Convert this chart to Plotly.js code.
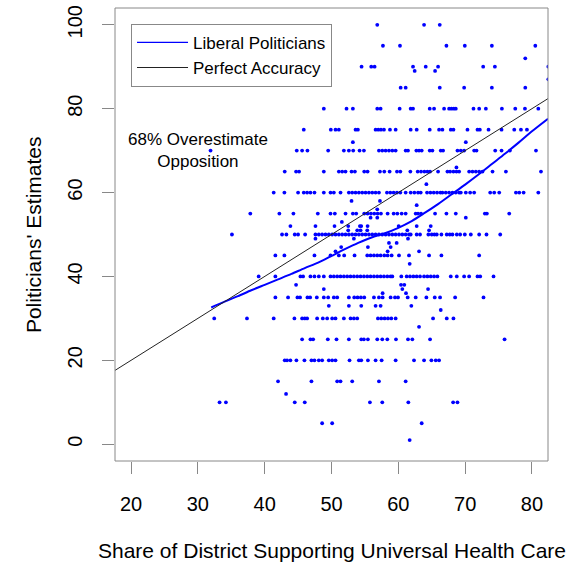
<!DOCTYPE html>
<html>
<head>
<meta charset="utf-8">
<script src="https://cdn.plot.ly/plotly-3.0.1.min.js"></script>
<style>
  html, body { margin: 0; padding: 0; background: #ffffff; }
  #chart { width: 576px; height: 567px; }
</style>
</head>
<body>
<div id="chart"></div>
<script>
// ---- Data ----
// Politicians' estimates (y) and the district shares (x) recorded at each estimate level
const estimateLevels = [100, 95, 92, 90, 89, 87, 85, 80, 75, 72, 70, 66, 65, 62, 60, 58, 57, 56, 55, 54, 53, 52, 51, 50,
  49, 48, 47, 46, 45, 43, 40, 38, 37, 36, 35, 33, 32, 30, 28, 25, 20, 15, 12, 10, 5, 1];
const sharesAtLevel = [
  [56.85, 63.85, 66.2],
  [57.7, 60.25, 67.2, 69.95, 74.0, 80.5],
  [79.0],
  [54.5, 55.95, 56.45, 62.2, 64.1, 65.95, 72.7, 74.45, 82.45],
  [62.45, 65.5],
  [82.45],
  [60.35, 61.1, 66.2, 69.85, 74.0, 79.0],
  [48.85, 52.25, 53.2, 56.85, 57.35, 60.2, 61.85, 62.2, 64.7, 65.35, 66.85, 67.6, 67.95, 68.3, 68.6, 71.25, 72.1, 73.1, 75.5, 77.5, 78.95, 80.95],
  [45.85, 49.9, 50.6, 51.1, 53.6, 53.95, 56.6, 57.0, 57.4, 57.85, 58.75, 59.6, 61.85, 62.75, 64.7, 66.1, 66.6, 67.85, 68.25, 70.35, 71.85, 72.2, 73.5, 75.45, 77.35, 78.35, 79.25],
  [53.2, 70.1],
  [31.9, 44.8, 45.6, 46.4, 49.5, 51.85, 52.6, 53.25, 54.2, 54.85, 57.1, 57.6, 58.1, 58.6, 59.1, 59.6, 61.1, 61.45, 62.7, 63.1, 63.5, 64.7, 65.1, 66.35, 66.7, 68.85, 69.35, 69.85, 71.35, 71.7, 74.5, 75.45, 76.7, 80.6],
  [68.7],
  [43.0, 44.7, 45.15, 48.85, 51.1, 51.6, 52.1, 53.0, 53.5, 54.9, 55.4, 57.25, 57.9, 58.7, 59.8, 60.3, 61.8, 62.9, 63.4, 63.9, 64.35, 64.75, 65.95, 67.35, 67.75, 68.25, 68.7, 69.1, 70.6, 71.1, 71.6, 72.1, 72.6, 74.1, 76.1, 81.35],
  [64.2],
  [41.35, 42.95, 45.0, 45.85, 46.35, 46.85, 47.45, 48.85, 49.85, 50.35, 51.35, 52.6, 53.1, 53.6, 54.1, 54.6, 55.1, 55.6, 56.1, 56.6, 57.1, 58.3, 58.8, 59.3, 59.8, 60.3, 61.1, 61.85, 62.4, 62.95, 63.35, 64.3, 64.8, 65.3, 65.8, 66.3, 66.6, 67.1, 67.6, 68.1, 68.6, 69.1, 69.35, 70.1, 70.75, 71.35, 73.75, 74.35, 75.1, 77.6, 78.1, 78.75, 80.95],
  [53.0, 57.25],
  [62.75],
  [56.85],
  [37.85, 42.2, 44.3, 47.95, 49.85, 50.5, 52.1, 53.2, 53.7, 54.9, 55.4, 55.9, 56.4, 56.9, 57.4, 58.4, 59.3, 59.85, 60.5, 61.1, 62.6, 62.95, 63.4, 65.5, 67.2, 68.6, 72.95, 73.25, 76.6],
  [55.85, 56.85, 70.1],
  [51.55],
  [43.85, 47.6, 50.45, 52.5, 54.25, 54.45, 55.4, 60.05, 62.75, 64.85],
  [52.5, 53.85, 54.35, 55.35, 61.35, 64.6],
  [35.1, 42.6, 43.25, 44.5, 45.0, 46.05, 47.6, 48.1, 48.6, 49.1, 49.6, 50.1, 50.6, 51.1, 51.6, 52.1, 52.6, 53.1, 53.6, 54.1, 54.6, 55.1, 55.6, 56.1, 56.6, 57.1, 57.6, 58.1, 58.6, 59.1, 59.6, 60.1, 60.6, 61.1, 61.6, 61.85, 62.75, 63.25, 64.5, 65.0, 65.4, 65.75, 66.45, 67.25, 67.7, 68.1, 68.75, 69.25, 69.95, 70.85, 72.1, 73.2, 75.25],
  [47.6, 53.35, 61.45],
  [58.6, 59.75],
  [51.45, 55.45, 58.85],
  [50.6, 58.4, 63.1],
  [41.6, 42.95, 47.45, 49.85, 51.1, 51.9, 53.45, 55.35, 55.85, 56.35, 56.85, 57.35, 57.9, 58.4, 59.0, 60.1, 61.6, 64.6, 66.45, 72.1],
  [61.7],
  [39.1, 41.6, 45.35, 45.75, 46.85, 47.45, 48.1, 48.85, 49.85, 50.35, 50.85, 51.35, 51.85, 52.35, 52.85, 53.35, 53.85, 54.35, 54.85, 55.35, 55.85, 56.35, 56.85, 57.35, 57.85, 58.35, 58.85, 59.1, 60.45, 61.25, 61.75, 62.25, 62.75, 63.25, 63.85, 64.35, 64.85, 65.35, 65.85, 67.85, 68.75, 69.85, 70.6, 71.85, 72.25, 74.25],
  [44.7, 60.4, 60.9],
  [48.85, 60.6, 64.45],
  [57.65, 61.15],
  [41.6, 43.5, 44.9, 45.3, 46.4, 46.8, 47.8, 48.85, 49.5, 50.35, 50.85, 52.6, 53.4, 53.9, 54.4, 54.9, 56.35, 57.1, 57.65, 58.85, 59.5, 59.95, 61.4, 62.6, 64.2, 65.45, 66.25, 68.5, 72.75],
  [49.6, 52.6, 54.45, 56.6, 57.35, 61.95],
  [66.35],
  [32.45, 37.35, 41.35, 44.45, 45.6, 46.0, 46.35, 47.85, 48.7, 49.35, 50.1, 50.6, 51.85, 52.85, 53.35, 53.85, 56.95, 57.45, 57.95, 58.45, 58.95, 59.6, 65.2, 67.25, 68.25],
  [63.1],
  [45.6, 46.85, 47.25, 49.45, 50.75, 52.6, 54.45, 54.85, 55.45, 56.85, 57.6, 58.35, 59.65, 61.45, 62.1, 64.75, 75.9],
  [43.0, 43.35, 43.85, 44.75, 45.95, 47.0, 47.45, 48.1, 48.6, 49.6, 50.1, 50.6, 52.7, 54.1, 54.45, 55.45, 56.6, 57.5, 59.6, 62.35, 63.85, 64.95, 65.6, 66.1],
  [42.0, 47.0, 50.85, 51.35, 53.1, 57.1, 61.1],
  [43.2],
  [33.25, 34.2, 44.5, 46.0, 55.75, 57.6, 61.5, 68.2, 68.85],
  [48.6, 50.1, 63.5],
  [61.7]
];

// Smoothed fit for liberal politicians
const loessX = [32, 34, 36, 38, 40, 42, 44, 46, 48, 50, 52, 54, 56, 58, 60, 62, 64, 66, 68, 70, 72, 74, 76, 78, 80, 82.4];
const loessY = [32.6, 34.0, 35.3, 36.7, 38.0, 39.3, 40.6, 42.0, 43.3, 44.9, 46.5, 48.0, 49.3, 50.3, 51.6, 53.2, 55.2, 57.3, 59.6, 61.9, 64.3, 66.8, 69.3, 71.9, 74.6, 77.6];

// Axis settings
const xRange = [17.6, 82.4];
const yRange = [-4, 104];
const xTicks = [20, 30, 40, 50, 60, 70, 80];
const yTicks = [0, 20, 40, 60, 80, 100];

const seriesNames = ['Liberal Politicians', 'Perfect Accuracy'];
const noteText = '68% Overestimate<br>Opposition';
const noteAt = [30, 70];
const xTitle = 'Share of District Supporting Universal Health Care';
const yTitle = "Politicians' Estimates";

// ---- Build traces ----
const ptsX = [], ptsY = [];
estimateLevels.forEach((lvl, i) => {
  sharesAtLevel[i].forEach(s => { ptsX.push(s); ptsY.push(lvl); });
});

const FONT = 'Liberation Sans, Arial, Helvetica, sans-serif';

const traces = [
  {
    type: 'scatter', mode: 'markers', x: ptsX, y: ptsY,
    marker: { color: '#0000ff', size: 3.8, line: { width: 0 } },
    showlegend: false, hoverinfo: 'skip'
  },
  {
    type: 'scatter', mode: 'lines', x: loessX, y: loessY, name: seriesNames[0],
    line: { color: '#0000ff', width: 2, shape: 'spline', smoothing: 0.8 },
    showlegend: false
  },
  {
    type: 'scatter', mode: 'lines', x: xRange, y: xRange, name: seriesNames[1],
    line: { color: '#222222', width: 1 }, showlegend: false
  },
  // legend-only entries (thin keys, like the reference)
  {
    type: 'scatter', mode: 'lines', x: [null], y: [null], name: seriesNames[0],
    line: { color: '#0000ff', width: 1.3 }, showlegend: true
  },
  {
    type: 'scatter', mode: 'lines', x: [null], y: [null], name: seriesNames[1],
    line: { color: '#222222', width: 1 }, showlegend: true
  }
];

const layout = {
  width: 576, height: 567,
  margin: { l: 115, r: 28, t: 8, b: 106, pad: 0 },
  paper_bgcolor: '#ffffff', plot_bgcolor: '#ffffff',
  font: { family: FONT, color: '#000000', size: 17 },
  showlegend: true,
  xaxis: {
    range: xRange, tickmode: 'array', tickvals: xTicks, ticktext: xTicks.map(String),
    ticks: 'outside', ticklen: 12, tickwidth: 1, tickcolor: '#888888',
    showgrid: false, zeroline: false, showline: false,
    tickfont: { family: FONT, size: 20, color: '#000000' },
    ticklabelstandoff: 13, fixedrange: true
  },
  yaxis: {
    range: yRange, tickmode: 'array', tickvals: yTicks, ticktext: yTicks.map(String),
    ticks: 'outside', ticklen: 12, tickwidth: 1, tickcolor: '#888888',
    showgrid: false, zeroline: false, showline: false, tickangle: -90,
    tickfont: { family: FONT, size: 20, color: '#000000' },
    ticklabelstandoff: 12, fixedrange: true
  },
  shapes: [
    { type: 'rect', xref: 'paper', yref: 'paper', x0: 0, x1: 1, y0: 0, y1: 1,
      line: { color: '#888888', width: 1 }, layer: 'above' }
  ],
  legend: {
    x: 0.037, y: 0.965, xanchor: 'left', yanchor: 'top',
    bgcolor: '#ffffff', bordercolor: '#888888', borderwidth: 1,
    font: { family: FONT, size: 17, color: '#000000' },
    tracegroupgap: 0, itemwidth: 51
  },
  annotations: [
    { x: noteAt[0], y: noteAt[1], xref: 'x', yref: 'y', text: noteText, showarrow: false,
      align: 'center', xanchor: 'center', yanchor: 'middle',
      font: { family: FONT, size: 17, color: '#000000' } },
    { x: 0.5, y: -0.198, xref: 'paper', yref: 'paper', text: xTitle, showarrow: false,
      xanchor: 'center', yanchor: 'middle', font: { family: FONT, size: 21, color: '#000000' } },
    { x: -0.188, y: 0.5, xref: 'paper', yref: 'paper', text: yTitle, showarrow: false, textangle: -90,
      xanchor: 'center', yanchor: 'middle', font: { family: FONT, size: 21, color: '#000000' } }
  ]
};

Plotly.newPlot('chart', traces, layout, { displayModeBar: false, staticPlot: true });
</script>
</body>
</html>
